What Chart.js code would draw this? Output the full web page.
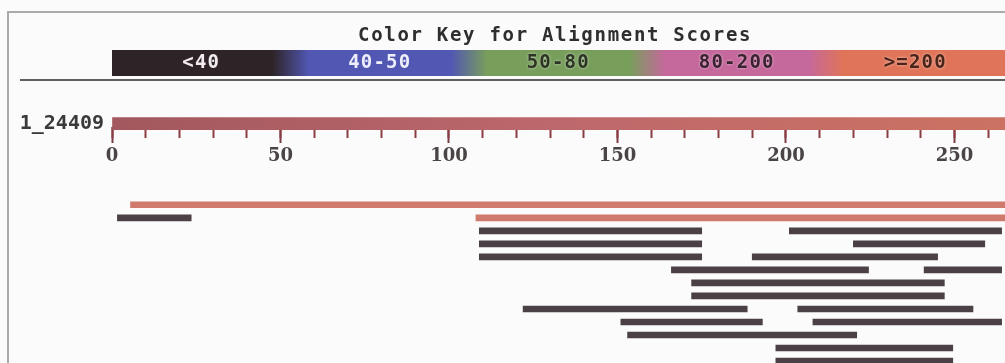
<!DOCTYPE html>
<html>
<head>
<meta charset="utf-8">
<script src="https://cdn.jsdelivr.net/npm/chart.js@4/dist/chart.umd.min.js"></script>
<style>
  html, body { margin: 0; padding: 0; background: #fbfbfb; }
  #wrap { position: relative; width: 1005px; height: 363px; overflow: hidden; background: #fbfbfb; }
  #chart { position: absolute; left: 0; top: 0; }
  .line { position: absolute; }
  #title { position: absolute; left: 358px; top: 23px; line-height: 19px; white-space: nowrap;
           font: bold 19px "DejaVu Sans Mono", monospace; letter-spacing: 1.7px; color: #2e2e2e; }
  #key { position: absolute; left: 112px; top: 50px; width: 893px; height: 26px; }
  .keyLabel { position: absolute; top: 0; height: 26px; line-height: 26px; text-align: center;
              font: bold 19px "DejaVu Sans Mono", monospace; letter-spacing: 1.2px; }
</style>
</head>
<body>
<div id="wrap">
  <canvas id="chart" width="1005" height="363"></canvas>
  <div class="line" style="left:7px; top:11px; width:998px; height:2px; background:#aaaaaa;"></div>
  <div class="line" style="left:7px; top:11px; width:2px; height:352px; background:#aaaaaa;"></div>
  <div class="line" style="left:20px; top:79px; width:985px; height:2px; background:#5e5e5e;"></div>
  <div id="title">Color Key for Alignment Scores</div>
  <div id="key"></div>
</div>
<script>
// query sequence and score classes
const queryName = "1_24409";
const queryLength = 265;
const keyLabels = ["<40", "40-50", "50-80", "80-200", ">=200"];

// one entry per hit segment: row, start, end, score class (index into keyLabels)
const hitRows   = [0,   1,    1,   2,   2,   3,   3,   4,   4,   5,     5,   6,   7,   8,     8,     9,   9,   10,  11,    12];
const hitStarts = [5.5, 1.6,  108, 109, 201, 109, 220, 109, 190, 166,   241, 172, 172, 122,   203.5, 151, 208, 153, 197,   197];
const hitEnds   = [265, 23.5, 265, 175, 264, 175, 259, 175, 245, 224.5, 264, 247, 247, 188.5, 255.5, 193, 264, 221, 249.5, 249.5];
const hitClass  = [4,   0,    4,   0,   0,   0,   0,   0,   0,   0,     0,   0,   0,   0,     0,     0,   0,   0,   0,     0];

const minorStep = 10;
const majorStep = 50;

// styling
const keyColors = ["#2e2428", "#5157b2", "#789e5c", "#c5689c", "#e07458"];
const keyTextColors = ["#f2ecf0", "#eeeefa", "#2c3424", "#3a2230", "#4a2418"];
const hitColors = ["#4b4045", "#5058b0", "#6e9a55", "#c0609a", "#d07a6e"];
const RULER_ROW = -6.23;
const RULER_AXIS_ROW = -6.0;

// colour key
const keyEl = document.getElementById("key");
const segW = 178.5;
let stops = [];
keyColors.forEach((c, i) => {
    stops.push(`${c} ${i * segW + 18}px`, `${c} ${(i + 1) * segW - 18}px`);
});
keyEl.style.background = `linear-gradient(90deg, ${stops.join(", ")})`;
keyLabels.forEach((t, i) => {
    const d = document.createElement("div");
    d.className = "keyLabel";
    d.style.left = (i * segW) + "px";
    d.style.width = segW + "px";
    d.style.color = keyTextColors[i];
    if (i >= 2) d.style.textShadow = `0 0 3px #ffffff99`;
    d.textContent = t;
    keyEl.appendChild(d);
});

const hitData = hitRows.map((r, i) => ({ x: [hitStarts[i], hitEnds[i]], y: r }));

new Chart(document.getElementById("chart"), {
    type: "bar",
    data: {
        datasets: [{
            data: [{ x: [0, queryLength], y: RULER_ROW }],
            barThickness: 12,
            backgroundColor: (ctx) => {
                const area = ctx.chart.chartArea;
                if (!area) return "#b86a6c";
                const g = ctx.chart.ctx.createLinearGradient(area.left, 0, area.right, 0);
                g.addColorStop(0, "#a2585e");
                g.addColorStop(0.5, "#bd686c");
                g.addColorStop(1, "#cc7262");
                return g;
            }
        }, {
            data: hitData,
            barThickness: 6,
            backgroundColor: hitData.map((d, i) => hitColors[hitClass[i]])
        }]
    },
    options: {
        indexAxis: "y",
        responsive: false,
        animation: false,
        devicePixelRatio: 1,
        layout: { padding: { top: 85, left: 0, right: 0, bottom: 0 } },
        datasets: { bar: { grouped: false } },
        plugins: { legend: { display: false }, tooltip: { enabled: false } },
        scales: {
            y: {
                type: "linear",
                reverse: true,
                offset: false,
                min: -9.2,
                max: 12.15,
                grid: { display: false, drawTicks: false },
                border: { display: false },
                afterFit: (s) => { s.width = 112; s.paddingTop = 0; s.paddingBottom = 0; },
                afterBuildTicks: (s) => { s.ticks = [{ value: RULER_ROW }]; },
                ticks: {
                    padding: 8,
                    color: "#3a3a3a",
                    font: { family: "DejaVu Sans Mono", weight: "bold", size: 20 },
                    callback: () => queryName
                }
            },
            x: {
                type: "linear",
                min: 0,
                max: queryLength,
                position: { y: RULER_AXIS_ROW },
                afterFit: (s) => { s.height = 0; s.paddingLeft = 0; s.paddingRight = 0; },
                border: { display: false },
                grid: { drawOnChartArea: false, tickLength: 16, tickColor: "#7a3a42", tickWidth: 2 },
                ticks: {
                    stepSize: majorStep,
                    includeBounds: false,
                    autoSkip: false,
                    maxRotation: 0,
                    padding: 3,
                    color: "#4a4444",
                    font: { family: "DejaVu Serif", weight: "bold", size: 18 }
                }
            },
            x2: {
                type: "linear",
                axis: "x",
                min: 0,
                max: queryLength,
                position: { y: RULER_AXIS_ROW },
                afterFit: (s) => { s.height = 0; s.paddingLeft = 0; s.paddingRight = 0; },
                border: { display: false },
                grid: { drawOnChartArea: false, tickLength: 11, tickColor: "#8a3c44", tickWidth: 2 },
                ticks: { stepSize: minorStep, includeBounds: false, autoSkip: false, display: false }
            }
        }
    }
});
</script>
</body>
</html>
